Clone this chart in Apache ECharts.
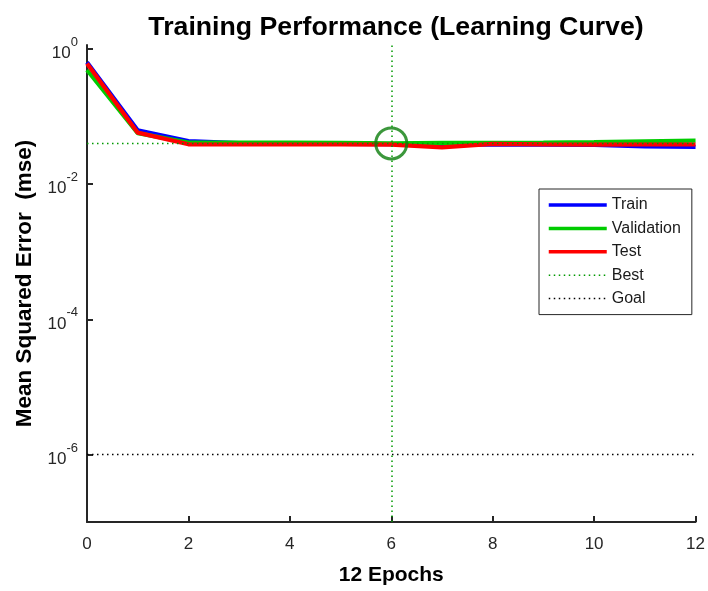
<!DOCTYPE html>
<html>
<head>
<meta charset="utf-8">
<script src="https://cdn.jsdelivr.net/npm/echarts@6/dist/echarts.min.js"></script>
<style>
html,body{margin:0;padding:0;background:#fff;}
#chart{width:708px;height:591px;}
</style>
</head>
<body>
<div id="chart"></div>
<script>
// ---- data ----
var epochs = [0, 1, 2, 3, 4, 5, 6, 7, 8, 9, 10, 11, 12];
var trainPerf = [0.64, 0.063, 0.0434, 0.0405, 0.0398, 0.0394, 0.0391, 0.0388, 0.0386, 0.0384, 0.0382, 0.0364, 0.0357];
var valPerf   = [0.49, 0.057, 0.0412, 0.0413, 0.0412, 0.0410, 0.0402, 0.0408, 0.0410, 0.0412, 0.0420, 0.0432, 0.0442];
var testPerf  = [0.61, 0.058, 0.0390, 0.0387, 0.0387, 0.0387, 0.0385, 0.0350, 0.0396, 0.0388, 0.0386, 0.0387, 0.0387];
var bestEpoch = 6;
var bestPerf = 0.0402;
var goalPerf = 1e-6;
var yMin = 1e-7, yMax = 1.15;
var xMin = 0, xMax = 12, xStep = 2;
var yTickValues = [1, 1e-2, 1e-4, 1e-6];
var titleText = 'Training Performance (Learning Curve)';
var xLabel = '12 Epochs';
var yLabel = 'Mean Squared Error  (mse)';

function pairs(xs, ys) { return xs.map(function (x, i) { return [x, ys[i]]; }); }

var FONT = "'Liberation Sans', Arial, Helvetica, sans-serif";
var AX = '#262626';
var dots = [1.5, 3.5];

var chart = echarts.init(document.getElementById('chart'), null, {renderer: 'canvas'});
chart.setOption({
  animation: false,
  backgroundColor: '#ffffff',
  textStyle: {fontFamily: FONT},
  title: {
    text: titleText, left: 391, top: 9, textAlign: 'center',
    textStyle: {fontFamily: FONT, fontSize: 26.7, fontWeight: 'bold', color: '#000'}
  },
  grid: {left: 87, right: 10, top: 45, bottom: 63, containLabel: false},
  legend: {
    data: [
      {name: 'Train', lineStyle: {width: 3.5}},
      {name: 'Validation', lineStyle: {width: 3.5}},
      {name: 'Test', lineStyle: {width: 3.5}},
      {name: 'Best', lineStyle: {width: 1.5}},
      {name: 'Goal', lineStyle: {width: 1.5}}
    ],
    orient: 'vertical', left: 539, top: 189,
    itemWidth: 58, itemHeight: 14, itemGap: 7.4,
    padding: [8, 11, 8, 8],
    borderColor: AX, borderWidth: 1, backgroundColor: '#fff',
    itemStyle: {opacity: 0},
    textStyle: {fontFamily: FONT, fontSize: 16, color: '#1a1a1a'},
    selectedMode: false
  },
  xAxis: {
    type: 'value', min: xMin, max: xMax, interval: xStep,
    name: xLabel, nameLocation: 'middle', nameGap: 43,
    nameTextStyle: {fontFamily: FONT, fontSize: 21, fontWeight: 'bold', color: '#000'},
    axisLine: {show: true, onZero: false, lineStyle: {color: AX, width: 2}},
    axisTick: {show: true, inside: true, length: 6, lineStyle: {color: AX, width: 2}},
    axisLabel: {fontFamily: FONT, fontSize: 17, color: AX, margin: 14},
    splitLine: {show: false}
  },
  yAxis: {
    type: 'log', logBase: 10, min: yMin, max: yMax,
    name: yLabel, nameLocation: 'middle', nameGap: 51,
    nameTextStyle: {fontFamily: FONT, fontSize: 22.5, fontWeight: 'bold', color: '#000'},
    axisLine: {show: true, onZero: false, lineStyle: {color: AX, width: 2}},
    axisTick: {show: true, inside: true, length: 6, customValues: yTickValues, lineStyle: {color: AX, width: 2}},
    axisLabel: {
      customValues: yTickValues, margin: 9,
      formatter: function (v) { var e = Math.round(Math.log10(v)); return '{b|10}{s|' + e + '}'; },
      rich: {
        b: {fontFamily: FONT, fontSize: 17, color: AX, lineHeight: 26, verticalAlign: 'bottom'},
        s: {fontFamily: FONT, fontSize: 13, color: AX, lineHeight: 26, verticalAlign: 'top'}
      }
    },
    splitLine: {show: false}
  },
  series: [
    {name: 'Train', type: 'line', data: pairs(epochs, trainPerf), showSymbol: false, symbol: 'none',
     lineStyle: {color: '#0000ff', width: 4.2}, itemStyle: {color: '#0000ff'}, z: 2},
    {name: 'Validation', type: 'line', data: pairs(epochs, valPerf), showSymbol: false, symbol: 'none',
     lineStyle: {color: '#00cc00', width: 4.2}, itemStyle: {color: '#00cc00'}, z: 2},
    {name: 'Test', type: 'line', data: pairs(epochs, testPerf), showSymbol: false, symbol: 'none',
     lineStyle: {color: '#ff0000', width: 4.2}, itemStyle: {color: '#ff0000'}, z: 2},
    {name: 'Best', type: 'line', data: [[xMin, bestPerf], [xMax, bestPerf]], showSymbol: false, symbol: 'none',
     lineStyle: {color: '#009900', width: 1.5, type: dots}, itemStyle: {color: '#009900'}, z: 3,
     markLine: {silent: true, symbol: ['none', 'none'], label: {show: false},
       lineStyle: {color: '#009900', width: 1.5, type: dots},
       data: [{xAxis: bestEpoch}]}},
    {name: 'Goal', type: 'line', data: [[xMin, goalPerf], [xMax, goalPerf]], showSymbol: false, symbol: 'none',
     lineStyle: {color: '#000000', width: 1.5, type: dots}, itemStyle: {color: '#000000'}, z: 3},
    {name: 'BestPoint', type: 'scatter', data: [[bestEpoch, bestPerf]], symbol: 'circle', symbolSize: 31,
     itemStyle: {color: 'rgba(0,0,0,0)', borderColor: '#0b7d0b', borderWidth: 3}, z: 4}
  ]
});
</script>
</body>
</html>
